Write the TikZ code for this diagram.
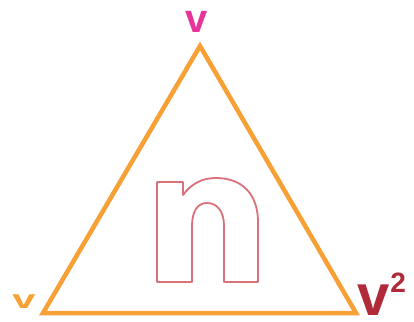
\documentclass[tikz,border=0pt]{standalone}
\usepackage{fontspec}
\setmainfont{Liberation Sans}
\definecolor{triorange}{HTML}{F7A035}
\definecolor{vmag}{HTML}{E8339A}
\definecolor{vred}{HTML}{B02A3A}
\definecolor{nline}{HTML}{D9707A}
\tikzset{
  edge/.style={draw=triorange,line width=4.5pt,line join=miter},
  lab/.style={inner sep=0pt}
}
\begin{document}
\begin{tikzpicture}[x=1pt,y=-1pt]
\useasboundingbox (0,0) rectangle (414,321);
\coordinate (top) at (200,46);
\coordinate (bl) at (43,313);
\coordinate (br) at (356,313);
\draw[edge] (top) -- (bl) -- (br) -- cycle;
% outlined n
\draw[nline,line width=1.8pt,fill=white,line join=round]
  (157,282) -- (157,182) -- (183,182) -- (183,195)
  .. controls (191,184) and (202,178) .. (216,178)
  .. controls (242,178) and (258,194) .. (258,222)
  -- (258,282) -- (224,282) -- (224,226)
  .. controls (224,211) and (217,203) .. (207,203)
  .. controls (197,203) and (192,212) .. (192,226)
  -- (192,282) -- cycle;
\node[lab,text=vmag,font=\bfseries\fontsize{40}{40}\selectfont,anchor=base] (vt) at (197,33) {v};
\node[lab,text=triorange,font=\bfseries\fontsize{26}{26}\selectfont,anchor=base] (vl) at (24,308) {\scalebox{1.6}[1]{v}};
\node[lab,text=vred,font=\bfseries\fontsize{58}{58}\selectfont,anchor=base west] (vr) at (357,315) {v\hspace{1pt}\raisebox{23pt}{\fontsize{28}{28}\selectfont 2}};
\end{tikzpicture}
\end{document}
